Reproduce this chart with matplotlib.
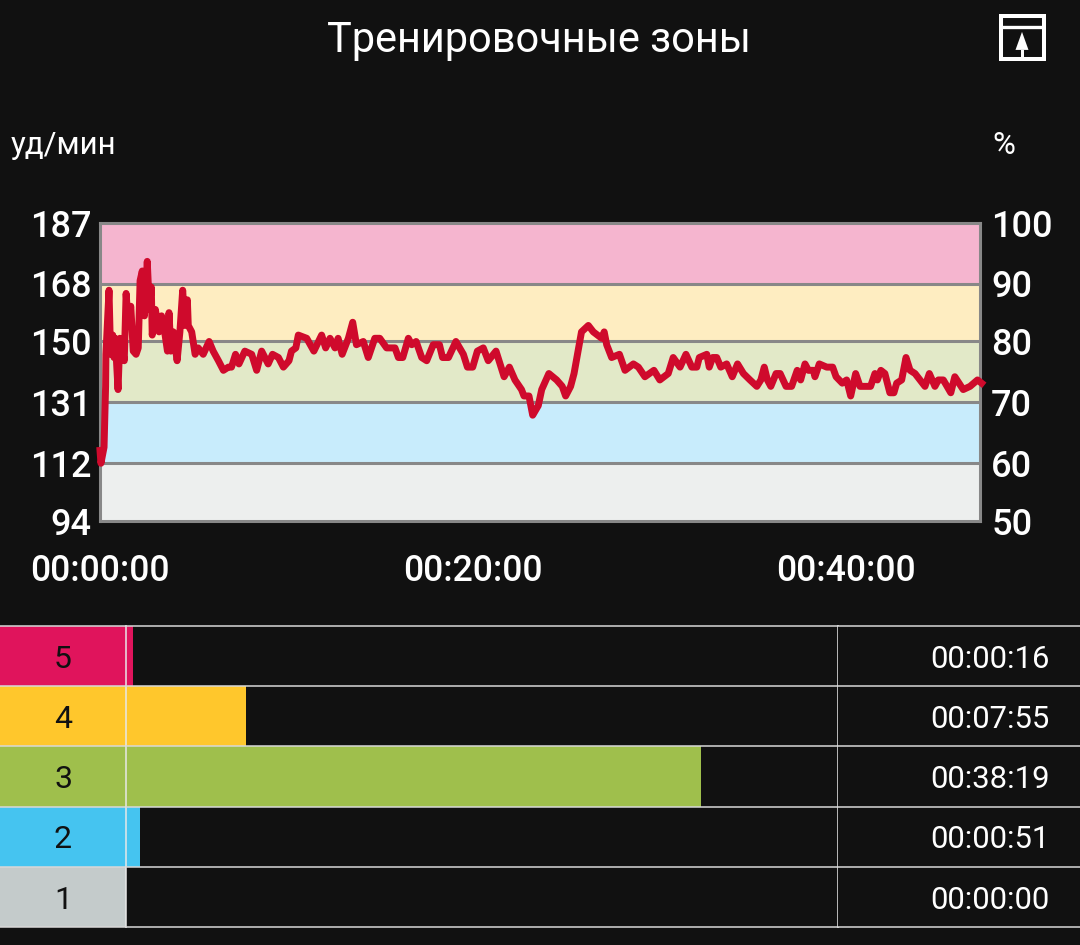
import matplotlib
matplotlib.use('Agg')
import matplotlib.pyplot as plt
from matplotlib.patches import Polygon, Rectangle

plt.rcParams['font.family'] = ['Roboto', 'DejaVu Sans']

W, H = 1080, 945
BG = '#111111'

# heart rate in bpm, time in seconds
time_sec = [0, 3, 13, 18, 19, 29, 34, 41, 45, 49, 58, 64, 72, 78, 84, 90, 99, 107, 116, 123,
            129, 136, 143, 152, 159, 165, 168, 178, 190, 198, 208, 217, 222, 228, 236, 248, 257, 266, 273, 281,
            284, 295, 306, 316, 332, 351, 364, 381, 397, 413, 423, 436, 447, 466, 488, 504, 520, 541, 555, 574,
            590, 608, 616, 630, 638, 665, 688, 713, 726, 740, 756, 766, 779, 799, 813, 825, 847, 863, 884, 900,
            922, 949, 960, 974, 992, 1003, 1017, 1035, 1051, 1072, 1092, 1102, 1121, 1145, 1169, 1182, 1199, 1214, 1233, 1249,
            1274, 1300, 1317, 1335, 1356, 1364, 1380, 1392, 1410, 1421, 1444, 1469, 1487, 1498, 1514, 1525, 1549, 1571, 1587, 1614,
            1622, 1630, 1646, 1671, 1689, 1716, 1732, 1753, 1782, 1801, 1828, 1844, 1866, 1885, 1904, 1920, 1928, 1952, 1960, 1971,
            1984, 1997, 2016, 2034, 2051, 2070, 2091, 2113, 2126, 2137, 2147, 2158, 2175, 2188, 2207, 2225, 2243, 2254, 2268, 2279,
            2295, 2300, 2314, 2338, 2357, 2368, 2388, 2402, 2415, 2431, 2445, 2461, 2479, 2493, 2501, 2512, 2525, 2541, 2554, 2563,
            2579, 2593, 2606, 2622, 2638, 2654, 2668, 2686, 2697, 2713, 2737, 2750, 2777, 2799, 2823, 2836]
hr_bpm = [116, 112, 117, 136, 146, 166, 146, 152, 145, 151, 135, 151, 148, 144, 165, 157, 161, 147, 146, 148,
          169, 172, 158, 175, 160, 167, 152, 160, 153, 158, 153, 147, 159, 147, 153, 144, 153, 166, 155, 163,
          155, 153, 146, 148, 146, 150, 147, 144, 141, 142, 142, 146, 143, 147, 146, 141, 147, 143, 146, 145,
          142, 144, 147, 148, 152, 151, 147, 152, 148, 151, 148, 151, 146, 151, 156, 149, 150, 145, 151, 151,
          148, 148, 145, 145, 151, 149, 150, 145, 144, 149, 149, 145, 145, 150, 146, 142, 142, 147, 148, 144,
          147, 139, 142, 138, 135, 133, 133, 127, 130, 135, 140, 138, 136, 133, 136, 140, 153, 155, 153, 151,
          153, 149, 145, 146, 141, 143, 142, 139, 141, 138, 140, 145, 142, 146, 142, 142, 145, 146, 142, 145,
          145, 142, 143, 139, 143, 140, 138, 136, 138, 142, 138, 136, 140, 140, 136, 136, 141, 138, 143, 141,
          141, 139, 143, 142, 142, 139, 137, 138, 133, 140, 136, 136, 136, 140, 138, 141, 140, 134, 134, 137,
          138, 145, 141, 140, 138, 136, 140, 136, 138, 138, 134, 139, 135, 136, 138, 137]

bpm_ticks = [94, 112, 131, 150, 168, 187]
pct_labels = ['50', '60', '70', '80', '90', '100']
band_colors = ['#edefee', '#c8ecfc', '#e2e9c8', '#feedc1', '#f5b5cf']
time_ticks = [0, 1200, 2400]
time_labels = ['00:00:00', '00:20:00', '00:40:00']

zones = ['5', '4', '3', '2', '1']
zone_sec = [16, 475, 2299, 51, 0]
# bar lengths as drawn in the app, a bit off from the printed times
bar_sec = [28, 478, 2296, 56, 0]
zone_text = ['00:00:16', '00:07:55', '00:38:19', '00:00:51', '00:00:00']
zone_colors = ['#e0145c', '#ffc72c', '#9fbf4c', '#45c4f0', '#c4cbcb']


def box(x0, y0, x1, y1):
    # pixel box from the top left -> figure fractions
    return [x0 / W, 1 - y1 / H, (x1 - x0) / W, (y1 - y0) / H]


fig = plt.figure(figsize=(W / 100, (H + 0.1) / 100), dpi=100, facecolor=BG)
fig.text(539 / W, 1 - 40 / H, 'Тренировочные зоны', color='white', fontsize=29.9, ha='center', va='center')
fig.text(11 / W, 1 - 145 / H, 'уд/мин', color='white', fontsize=22.5, ha='left', va='center')
fig.text(992 / W, 1 - 145 / H, '%', color='white', fontsize=22.5, ha='left', va='center')

# main chart
ax = fig.add_axes(box(100, 223, 980, 521))
for i, c in enumerate(band_colors):
    ax.axhspan(bpm_ticks[i], bpm_ticks[i + 1], color=c, lw=0, zorder=0)
for b in bpm_ticks[1:-1]:
    ax.axhline(b, color='#888888', lw=2.2, zorder=1)
ax.plot(time_sec, hr_bpm, color='#cf0a2c', lw=5, solid_joinstyle='round', clip_on=False, zorder=3)
ax.set_xlim(0, 2831)
ax.set_ylim(94, 187)
ax.set_yticks(bpm_ticks)
ax.set_yticklabels([str(b) for b in bpm_ticks], fontweight='medium')
ax.set_xticks(time_ticks)
ax.set_xticklabels(time_labels, fontweight='medium')
ax.tick_params(axis='y', length=0, pad=6, labelsize=26, labelcolor='white')
ax.tick_params(axis='x', length=0, pad=23.5, labelsize=25.6, labelcolor='white')
for s in ax.spines.values():
    s.set_color('#888888')
    s.set_linewidth(2.2)

ax_r = ax.twinx()
ax_r.set_ylim(94, 187)
ax_r.set_yticks(bpm_ticks)
ax_r.set_yticklabels(pct_labels, fontweight='medium')
ax_r.tick_params(axis='y', length=0, pad=8, labelsize=26, labelcolor='white')
for s in ax_r.spines.values():
    s.set_visible(False)

# zone table
ax_z = fig.add_axes(box(0, 626, 126, 927))
ax_b = fig.add_axes(box(126, 626, 838, 927))
ax_t = fig.add_axes(box(838, 626, W, 927))
rows = list(range(len(zones)))
ax_z.barh(rows, [1] * 5, height=1, color=zone_colors)
ax_b.barh(rows, bar_sec, height=1, color=zone_colors)
ax_z.set_xlim(0, 1)
ax_b.set_xlim(0, sum(zone_sec))
ax_t.set_xlim(0, 1)
for i in rows:
    ax_z.text(0.5, i + 0.05, zones[i], color='#111111', fontsize=23, ha='center', va='center')
    ax_t.text(0.875, i + 0.05, zone_text[i], color='white', fontsize=22.3, ha='right', va='center')
for a in (ax_z, ax_b, ax_t):
    a.set_facecolor(BG)
    a.set_ylim(len(zones) - 0.5, -0.5)
    a.set_xticks([])
    a.set_yticks([])
    for s in a.spines.values():
        s.set_visible(False)
    for y in [r - 0.5 for r in rows] + [len(zones) - 0.5]:
        a.axhline(y, color='#d8d8d8', lw=1.1, clip_on=False, zorder=5)
ax_b.spines['left'].set_visible(True)
ax_b.spines['right'].set_visible(True)
ax_b.spines['left'].set_color('#e8e8e8')
ax_b.spines['right'].set_color('#e8e8e8')
ax_b.spines['left'].set_linewidth(1.1)
ax_b.spines['right'].set_linewidth(1.1)

# export icon, axes is in pixels of the icon
ax_i = fig.add_axes(box(999, 14, 1046, 61))
ax_i.set_xlim(0, 47)
ax_i.set_ylim(47, 0)
ax_i.axis('off')
ax_i.add_patch(Rectangle((2, 2), 43, 43, fill=False, ec='white', lw=2.9))
ax_i.plot([2, 45], [13, 13], color='white', lw=2.4)
ax_i.add_patch(Polygon([[23, 18], [16.5, 36], [29.5, 36]], fc='white', ec='none'))
ax_i.add_patch(Rectangle((21.5, 36), 3, 8, fc='white', ec='none'))

fig.savefig('out.png', dpi=100, facecolor=BG)
